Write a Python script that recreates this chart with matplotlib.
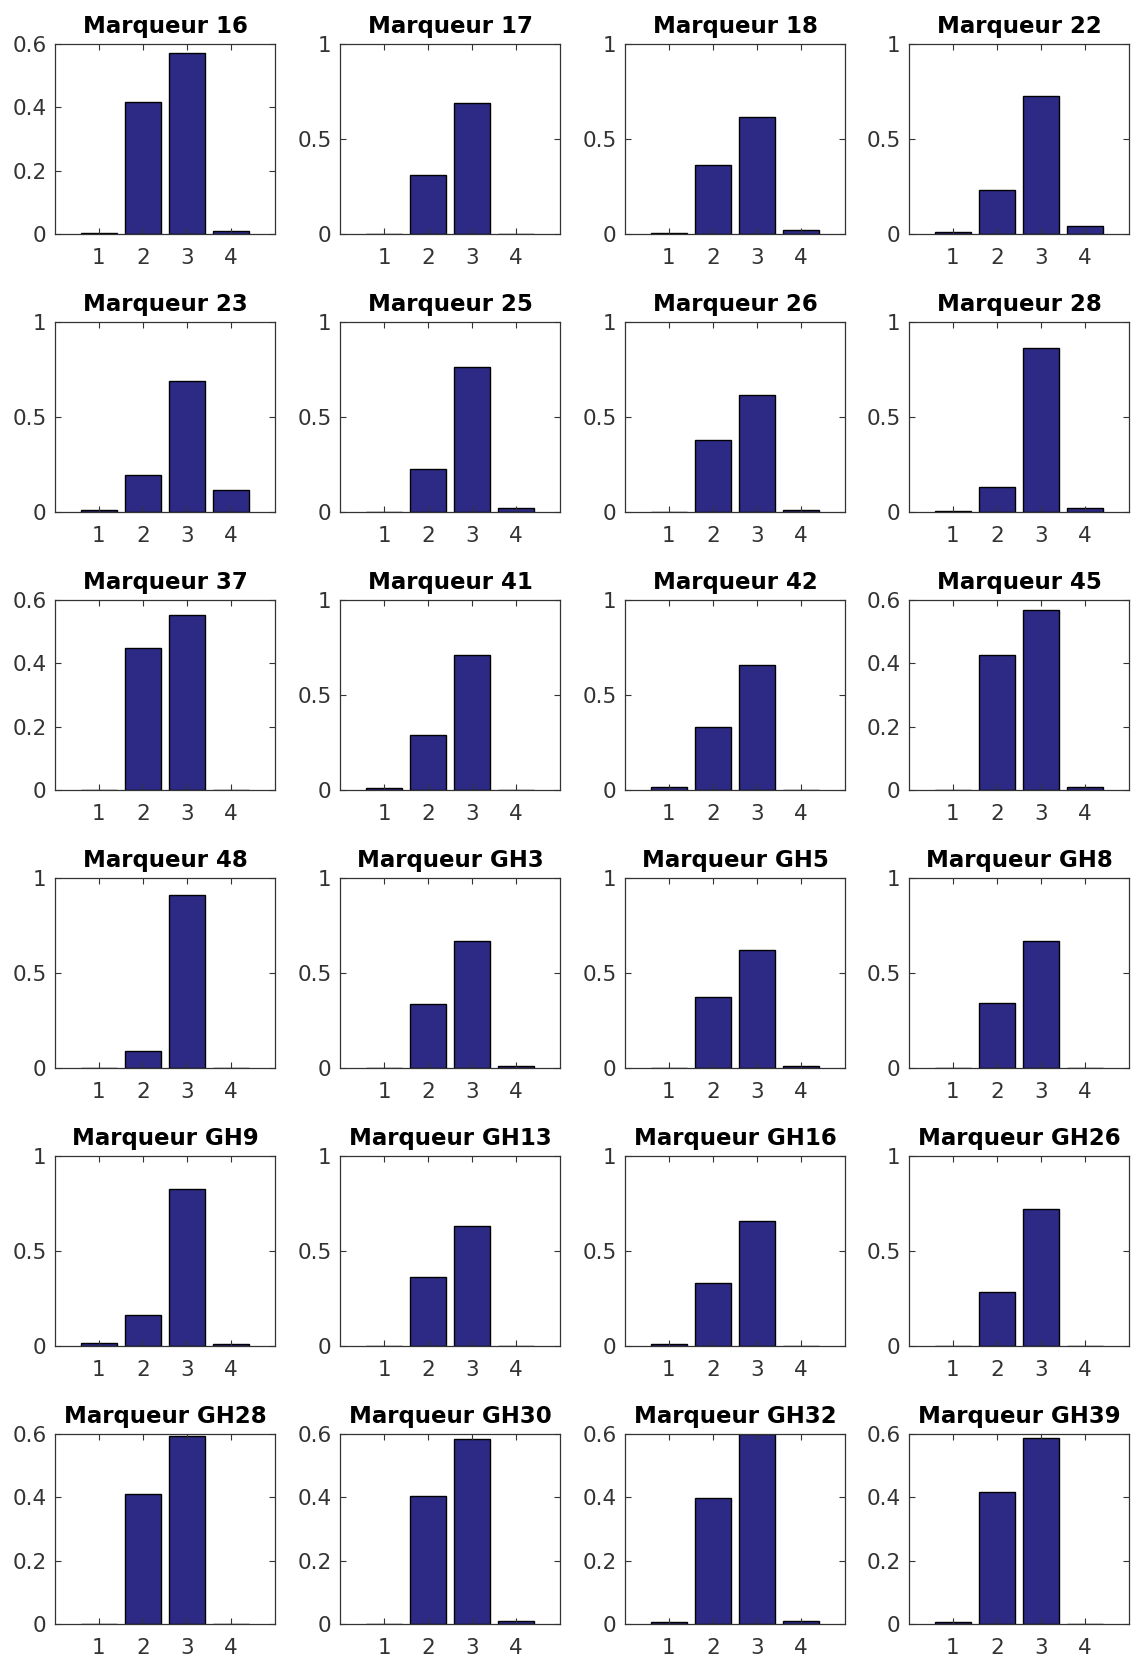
import numpy as np
import matplotlib
matplotlib.use("Agg")
import matplotlib.pyplot as plt

# titres des marqueurs, ligne par ligne
marqueurs = [
    "16", "17", "18", "22",
    "23", "25", "26", "28",
    "37", "41", "42", "45",
    "48", "GH3", "GH5", "GH8",
    "GH9", "GH13", "GH16", "GH26",
    "GH28", "GH30", "GH32", "GH39",
]

# frequences pour les classes 1..4
freq_16 = [0.002, 0.416, 0.570, 0.010]
freq_17 = [0.0, 0.313, 0.687, 0.0]
freq_18 = [0.003, 0.363, 0.615, 0.020]
freq_22 = [0.010, 0.229, 0.726, 0.040]
freq_23 = [0.010, 0.194, 0.689, 0.117]
freq_25 = [0.0, 0.228, 0.761, 0.020]
freq_26 = [0.0, 0.378, 0.617, 0.010]
freq_28 = [0.003, 0.133, 0.861, 0.020]
freq_37 = [0.0, 0.450, 0.553, 0.0]
freq_41 = [0.010, 0.289, 0.711, 0.0]
freq_42 = [0.015, 0.333, 0.656, 0.0]
freq_45 = [0.0, 0.427, 0.570, 0.008]
freq_48 = [0.0, 0.089, 0.911, 0.0]
freq_gh3 = [0.0, 0.339, 0.667, 0.010]
freq_gh5 = [0.0, 0.372, 0.622, 0.010]
freq_gh8 = [0.0, 0.344, 0.667, 0.0]
freq_gh9 = [0.015, 0.161, 0.828, 0.010]
freq_gh13 = [0.0, 0.361, 0.633, 0.0]
freq_gh16 = [0.010, 0.333, 0.656, 0.0]
freq_gh26 = [0.0, 0.283, 0.722, 0.0]
freq_gh28 = [0.0, 0.412, 0.595, 0.0]
freq_gh30 = [0.0, 0.405, 0.585, 0.010]
freq_gh32 = [0.005, 0.399, 0.600, 0.010]
freq_gh39 = [0.005, 0.416, 0.587, 0.0]

frequences = [
    freq_16, freq_17, freq_18, freq_22,
    freq_23, freq_25, freq_26, freq_28,
    freq_37, freq_41, freq_42, freq_45,
    freq_48, freq_gh3, freq_gh5, freq_gh8,
    freq_gh9, freq_gh13, freq_gh16, freq_gh26,
    freq_gh28, freq_gh30, freq_gh32, freq_gh39,
]

# panneaux dont l'axe y va jusqu'a 0.6 au lieu de 1
echelle_06 = ["16", "37", "45", "GH28", "GH30", "GH32", "GH39"]

classes = [1, 2, 3, 4]

W, H = 1131, 1661
fig = plt.figure(figsize=(W / 100, H / 100), dpi=100)

# positions des axes en pixels
gauches = [55, 340, 625, 909]
hauts = [44, 322, 600, 878, 1156, 1434]
largeur = 220
hauteur = 190

couleur_barre = "#2d2a86"

for i, (nom, valeurs) in enumerate(zip(marqueurs, frequences)):
    ligne, col = divmod(i, 4)
    x0 = gauches[col] / W
    y0 = 1 - (hauts[ligne] + hauteur) / H
    ax = fig.add_axes([x0, y0, largeur / W, hauteur / H])

    ax.bar(classes, valeurs, width=0.8, color=couleur_barre,
           edgecolor="black", linewidth=1.0)

    ax.set_xlim(0, 5)
    ax.set_xticks(classes)
    ax.set_xticklabels([str(c) for c in classes])
    if nom in echelle_06:
        ax.set_ylim(0, 0.6)
        ax.set_yticks([0, 0.2, 0.4, 0.6])
        ax.set_yticklabels(["0", "0.2", "0.4", "0.6"])
    else:
        ax.set_ylim(0, 1)
        ax.set_yticks([0, 0.5, 1])
        ax.set_yticklabels(["0", "0.5", "1"])

    ax.tick_params(direction="in", top=True, right=True, length=4,
                   width=0.8, labelsize=15.5, labelcolor="#333333",
                   color="#333333")
    ax.tick_params(axis="x", pad=10)
    ax.tick_params(axis="y", pad=6)
    for s in ax.spines.values():
        s.set_linewidth(0.9)
        s.set_color("#333333")

    ax.set_title("Marqueur " + nom, fontsize=16.5, fontweight="bold", pad=8)

fig.savefig("out.png", dpi=100)
